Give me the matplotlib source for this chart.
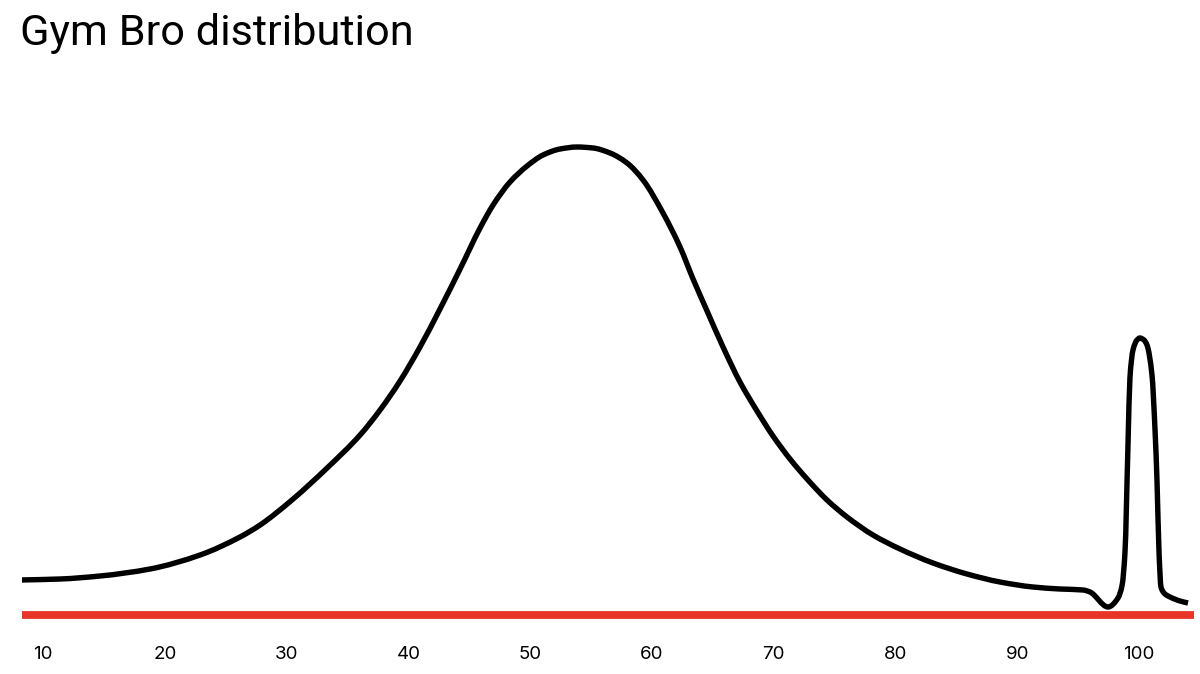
"""Gym Bro distribution - line chart recreation"""

import numpy as np
import matplotlib
matplotlib.use("Agg")
import matplotlib.pyplot as plt
import matplotlib.font_manager as fm
from matplotlib.path import Path
from matplotlib.patches import PathPatch

# curve: score (x) vs relative density (y)
score = [
    8.11, 11.40, 14.68, 18.78, 22.89, 26.17, 27.82, 30.53, 33.32, 36.03,
    37.67, 39.31, 40.95, 42.59, 44.24, 45.88, 46.95, 48.34, 49.74, 51.05,
    52.45, 53.84, 55.16, 56.55, 57.95, 59.26, 60.90, 62.30, 63.37, 64.52,
    65.83, 67.22, 68.62, 69.93, 71.33, 72.73, 74.37, 76.01, 78.14, 80.36,
    83.07, 85.86, 88.57, 91.28, 93.50, 95.39,
    95.96, 97.44, 98.26, 98.60, 98.83, 99.08, 99.24, 99.49, 99.82, 100.06,
    100.39, 100.64, 101.05, 101.30, 101.46, 101.63, 101.79, 102.12, 102.53,
    103.35, 104.01,
]
density = [
    35, 36, 39, 46, 60, 78, 90, 116, 147, 180,
    205, 234, 268, 306, 346, 387, 410, 433, 449, 460,
    466, 468, 467, 462, 452, 435, 402, 368, 336, 304,
    268, 233, 204, 179, 156, 136, 115, 98, 80, 66,
    52, 41, 33, 28, 26, 25,
    23, 8, 17, 30, 62, 170, 237, 265, 275, 277,
    275, 270, 240, 185, 135, 62, 28, 21, 18,
    14, 12,
]
tick_values = [10, 20, 30, 40, 50, 60, 70, 80, 90, 100]

TITLE = "Gym Bro distribution"
RED = "#e83528"


def _pick_font(names):
    installed = {f.name for f in fm.fontManager.ttflist}
    for n in names:
        if n in installed:
            return n
    return "DejaVu Sans"


def monotone_path(xs, ys):
    """Smooth monotone cubic (like d3.curveMonotoneX) through the points"""
    x = np.asarray(xs, float)
    y = np.asarray(ys, float)
    n = len(x)
    h = np.diff(x)
    d = np.diff(y) / h
    m = np.zeros(n)
    m[0], m[-1] = d[0], d[-1]
    for i in range(1, n - 1):
        if d[i - 1] * d[i] <= 0:
            m[i] = 0
        else:
            w1 = 2 * h[i] + h[i - 1]
            w2 = h[i] + 2 * h[i - 1]
            m[i] = (w1 + w2) / (w1 / d[i - 1] + w2 / d[i])
    verts = [(x[0], y[0])]
    codes = [Path.MOVETO]
    for i in range(n - 1):
        dx = h[i] / 3
        verts += [(x[i] + dx, y[i] + m[i] * dx),
                  (x[i + 1] - dx, y[i + 1] - m[i + 1] * dx),
                  (x[i + 1], y[i + 1])]
        codes += [Path.CURVE4] * 3
    return Path(verts, codes)


title_font = _pick_font(["Liberation Sans Narrow", "DejaVu Sans Condensed", "Roboto", "DejaVu Sans"])
tick_font = _pick_font(["Inter", "Roboto", "DejaVu Sans"])

W, H = 1200, 674
fig = plt.figure(figsize=(W / 100, H / 100), dpi=100)
fig.patch.set_facecolor("white")

# axes: red baseline at y=615px, spanning 22..1194px
ax = fig.add_axes([22 / W, 1 - 615 / H, (1194 - 22) / W, (615 - 100) / H])
ax.set_xlim(8.27, 104.5)
ax.set_ylim(0, 515)
ax.patch.set_alpha(0)

curve = PathPatch(monotone_path(score, density), facecolor="none", edgecolor="black",
                  linewidth=3.9, capstyle="butt", joinstyle="round", zorder=3)
ax.add_patch(curve)
ax.axhline(0, color=RED, linewidth=5.6, solid_capstyle="butt", zorder=2, clip_on=False)

for s in ax.spines.values():
    s.set_visible(False)
ax.set_yticks([])
ax.set_xticks(tick_values)
ax.set_xticklabels([str(v) for v in tick_values], fontfamily=tick_font, fontsize=13.5)
ax.tick_params(axis="x", length=0, pad=22, colors="black")

t = fig.text(20 / W, 1 - 45 / H, TITLE, fontfamily=title_font, fontsize=29,
             va="baseline", ha="left", color="black")

# fit title width to ~393px
fig.canvas.draw()
bb = t.get_window_extent()
t.set_fontsize(29 * 393 / bb.width)

fig.savefig("out.png", dpi=100)
